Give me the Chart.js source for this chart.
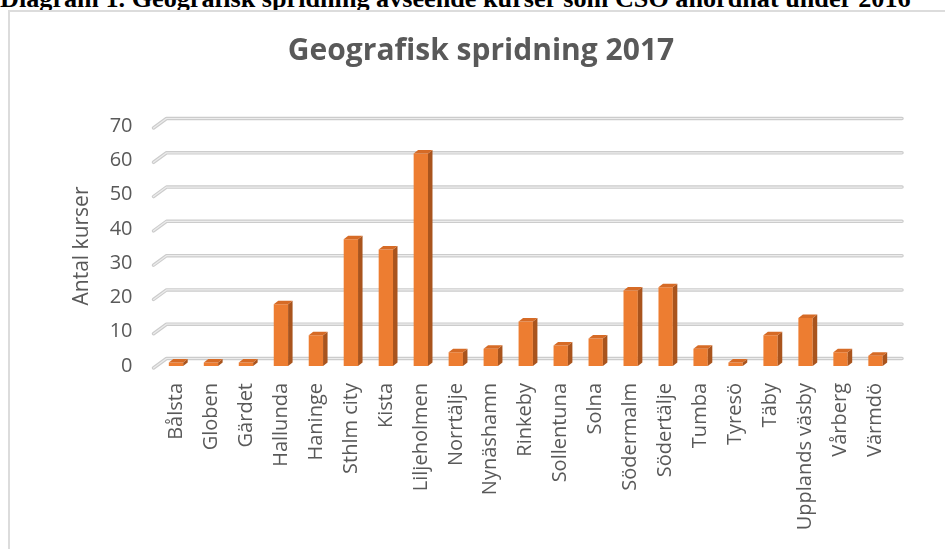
<!DOCTYPE html>
<html lang="sv">
<head>
<meta charset="utf-8">
<title>Geografisk spridning 2017</title>
<script src="https://cdn.jsdelivr.net/npm/chart.js@4.4.1/dist/chart.umd.min.js"></script>
<style>
    body { margin: 0; width: 945px; height: 549px; overflow: hidden; background: #fff; position: relative; }
    #heading {
        position: absolute; left: 0; top: -14px; white-space: nowrap;
        font: bold 26.2px/26.2px "Liberation Serif", "Times New Roman", serif; color: #000;
    }
    #box {
        position: absolute; left: 8px; top: 10px; width: 1000px; height: 600px;
        border: 2px solid #dcdcdc; box-sizing: border-box;
    }
    #chartWrap { position: absolute; left: 0; top: 0; width: 945px; height: 549px; }
</style>
</head>
<body>
<div id="heading">Diagram 1. Geografisk spridning avseende kurser som CSO anordnat under 2016</div>
<div id="box"></div>
<div id="chartWrap"><canvas id="kursChart" width="945" height="549"></canvas></div>

<script>
// Orter och antal kurser
const orter = ['Bålsta', 'Globen', 'Gärdet', 'Hallunda', 'Haninge', 'Sthlm city', 'Kista',
    'Liljeholmen', 'Norrtälje', 'Nynäshamn', 'Rinkeby', 'Sollentuna', 'Solna', 'Södermalm',
    'Södertälje', 'Tumba', 'Tyresö', 'Täby', 'Upplands väsby', 'Vårberg', 'Värmdö'];
const antalKurser = [1, 1, 1, 18, 9, 37, 34, 62, 4, 5, 13, 6, 8, 22, 23, 5, 1, 9, 14, 4, 3];
const yTicks = [0, 10, 20, 30, 40, 50, 60, 70];

const textColor = '#595959';
const barFront = '#ed7d31';
const barSide = '#a9541d';
const barTop = '#d66b26';

// 3D-liknande stödlinjer på bakväggen
const backGrid = {
    id: 'backGrid',
    beforeDatasetsDraw(chart) {
        const { ctx, chartArea, scales } = chart;
        ctx.save();
        ctx.lineCap = 'round';
        ctx.lineJoin = 'round';
        yTicks.forEach(v => {
            const y = scales.y.getPixelForValue(v);
            const path = () => {
                ctx.beginPath();
                ctx.moveTo(chartArea.left - 5, y + 2);
                ctx.lineTo(chartArea.left + 8, y - 7.5);
                ctx.lineTo(902, y - 7.5);
                ctx.stroke();
            };
            ctx.strokeStyle = '#cccccc';
            ctx.lineWidth = 3.5;
            path();
            ctx.strokeStyle = '#ececec';
            ctx.lineWidth = 1.2;
            path();
        });
        ctx.restore();
    }
};

// sida och topp på staplarna
const bar3d = {
    id: 'bar3d',
    afterDatasetsDraw(chart) {
        const { ctx } = chart;
        const dx = 4.5, dy = -3.5;
        ctx.save();
        chart.getDatasetMeta(0).data.forEach(bar => {
            const { x, y, base, width } = bar.getProps(['x', 'y', 'base', 'width'], true);
            const l = x - width / 2, r = x + width / 2;
            ctx.fillStyle = barSide;
            ctx.beginPath();
            ctx.moveTo(r, y);
            ctx.lineTo(r + dx, y + dy);
            ctx.lineTo(r + dx, base + dy);
            ctx.lineTo(r, base);
            ctx.closePath();
            ctx.fill();
            ctx.fillStyle = barTop;
            ctx.beginPath();
            ctx.moveTo(l, y);
            ctx.lineTo(l + dx, y + dy);
            ctx.lineTo(r + dx, y + dy);
            ctx.lineTo(r, y);
            ctx.closePath();
            ctx.fill();
        });
        ctx.restore();
    }
};

document.addEventListener('DOMContentLoaded', () => {
    const ctx = document.getElementById('kursChart').getContext('2d');

    new Chart(ctx, {
        type: 'bar',
        data: {
            labels: orter,
            datasets: [{
                label: 'Antal kurser',
                data: antalKurser,
                backgroundColor: barFront,
                borderWidth: 0,
                barPercentage: 0.41,
                categoryPercentage: 1
            }]
        },
        options: {
            responsive: false,
            animation: false,
            devicePixelRatio: 1,
            layout: { padding: { left: 69, right: 52, top: 0, bottom: 0 } },
            plugins: {
                legend: { display: false },
                tooltip: { enabled: false },
                title: {
                    display: true,
                    text: 'Geografisk spridning 2017',
                    color: textColor,
                    font: { family: 'Open Sans', size: 30, weight: 'bold' },
                    padding: { top: 33.5, bottom: 56.5 }
                }
            },
            scales: {
                x: {
                    grid: { display: false, drawTicks: false },
                    border: { display: false },
                    ticks: {
                        autoSkip: false,
                        minRotation: 90,
                        maxRotation: 90,
                        padding: 17,
                        color: textColor,
                        font: { family: 'Open Sans', size: 20 }
                    },
                    afterFit: scale => { scale.height = 183; }
                },
                y: {
                    min: 0,
                    max: 70,
                    grid: { display: false, drawTicks: false },
                    border: { display: false },
                    ticks: {
                        stepSize: 10,
                        padding: 26,
                        color: textColor,
                        font: { family: 'Open Sans', size: 20 }
                    },
                    title: {
                        display: true,
                        text: 'Antal kurser',
                        color: textColor,
                        padding: 0,
                        font: { family: 'Open Sans', size: 21 }
                    },
                    afterFit: scale => { scale.width = 89.5; }
                }
            }
        },
        plugins: [backGrid, bar3d]
    });
});
</script>
</body>
</html>
